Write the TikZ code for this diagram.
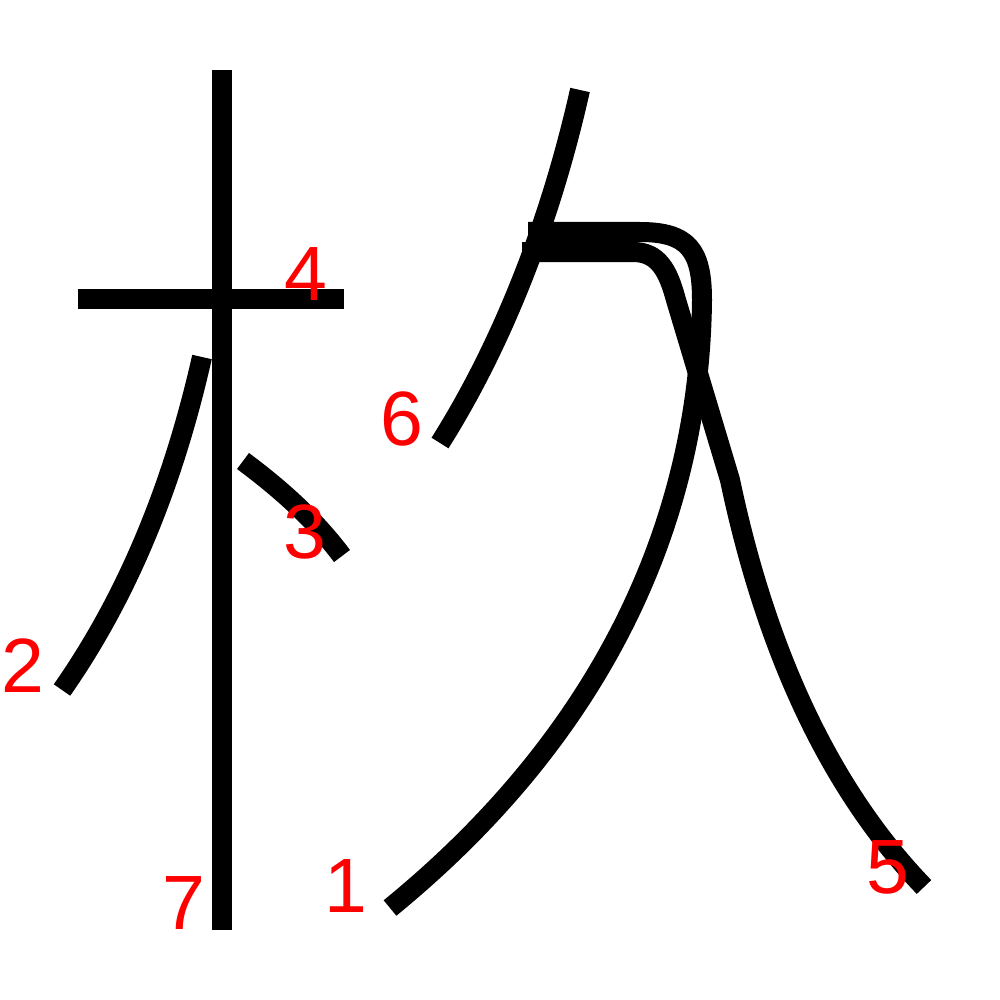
\documentclass[tikz,border=0pt]{standalone}
\usepackage{fontspec}
\setmainfont{Liberation Sans}
\definecolor{InkBlack}{HTML}{000000}
\definecolor{NumRed}{HTML}{FF0000}

\begin{document}
\begin{tikzpicture}[
  x=1pt, y=-1pt,
  line cap=butt, line join=round,
  kstroke/.style={InkBlack, line width=20pt},
  strokenum/.style={NumRed, anchor=base, inner sep=0pt,
    font=\fontsize{77}{77}\selectfont}
]

% Canvas
\useasboundingbox (0,0) rectangle (1000,1000);

% === Left part: the tree radical ===
% 7: vertical
\draw[kstroke] (222,70) -- (222,930);
% 4: horizontal
\draw[kstroke] (78,299) -- (344,299);
% 2: left sweep
\draw[kstroke] (202,357) .. controls (172,490) and (125,600) .. (62,690);
% 3: right dot
\draw[kstroke] (243,461) .. controls (282,490) and (315,520) .. (342,556);

% === Right part ===
% 6: top sweep
\draw[kstroke] (580,90) .. controls (552,215) and (505,340) .. (440,443);
% 1: hook and long left sweep
\draw[kstroke] (528,232) -- (640,232)
  .. controls (688,232) and (702,250) .. (702,300)
  .. controls (700,500) and (620,720) .. (390,908);
% 5: bend and long right sweep
\draw[kstroke] (522,252) -- (633,252)
  .. controls (658,252) and (668,270) .. (676,300)
  -- (730,480)
  .. controls (770,670) and (840,800) .. (924,887);

% === Stroke numbers ===
\node[strokenum] (n1) at (346,912) {1};
\node[strokenum] (n2) at (23,692) {2};
\node[strokenum] (n3) at (305,558) {3};
\node[strokenum] (n4) at (306,300) {4};
\node[strokenum] (n5) at (888,893) {5};
\node[strokenum] (n6) at (402,445) {6};
\node[strokenum] (n7) at (184,929) {7};

\end{tikzpicture}
\end{document}
